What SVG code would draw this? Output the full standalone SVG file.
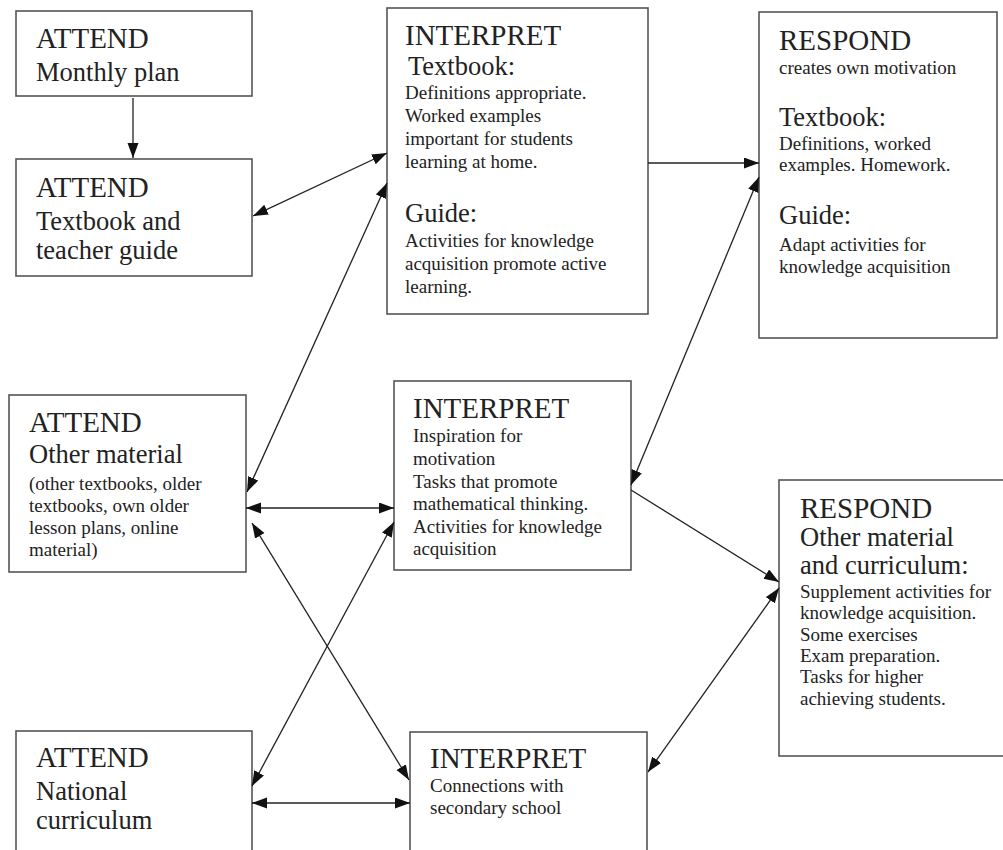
<svg xmlns="http://www.w3.org/2000/svg" width="1003" height="850" viewBox="0 0 1003 850">
<style>
.box{fill:#fff;stroke:#555;stroke-width:1.6}
.t{font-family:"Liberation Serif","Times New Roman",serif;fill:#222}
.h{font-size:29px}
.s{font-size:26.5px}
.m{font-size:19px}
.c{stroke:#222;stroke-width:1.3;fill:none}
</style>
<defs>
<marker id="ah" markerUnits="userSpaceOnUse" markerWidth="16" markerHeight="12" refX="15" refY="5.5" orient="auto-start-reverse">
<path d="M0,0 L15,5.5 L0,11 z" fill="#111"/>
</marker>
</defs>
<rect width="1003" height="850" fill="#fff"/>
<g id="attend-monthly">
<rect class="box" x="16" y="11" width="236" height="85"/>
<text class="t h" x="36" y="48">ATTEND</text>
<text class="t s" x="36" y="81">Monthly plan</text>
</g>
<g id="attend-textbook">
<rect class="box" x="16" y="159" width="236" height="117"/>
<text class="t h" x="36" y="197">ATTEND</text>
<text class="t s" x="36" y="230">Textbook and</text>
<text class="t s" x="36" y="259">teacher guide</text>
</g>
<g id="interpret-textbook">
<rect class="box" x="387" y="8" width="261" height="306"/>
<text class="t h" x="405" y="45">INTERPRET</text>
<text class="t s" x="408" y="75">Textbook:</text>
<text class="t m" x="405" y="99">Definitions appropriate.</text>
<text class="t m" x="405" y="122">Worked examples</text>
<text class="t m" x="405" y="145">important for students</text>
<text class="t m" x="405" y="168">learning at home.</text>
<text class="t s" x="405" y="222">Guide:</text>
<text class="t m" x="405" y="247">Activities for knowledge</text>
<text class="t m" x="405" y="270">acquisition promote active</text>
<text class="t m" x="405" y="293">learning.</text>
</g>
<g id="respond-textbook">
<rect class="box" x="759" y="12" width="238" height="326"/>
<text class="t h" x="779" y="50">RESPOND</text>
<text class="t m" x="779" y="74">creates own motivation</text>
<text class="t s" x="779" y="126">Textbook:</text>
<text class="t m" x="779" y="150">Definitions, worked</text>
<text class="t m" x="779" y="171">examples. Homework.</text>
<text class="t s" x="779" y="224">Guide:</text>
<text class="t m" x="779" y="251">Adapt activities for</text>
<text class="t m" x="779" y="273">knowledge acquisition</text>
</g>
<g id="attend-other">
<rect class="box" x="9" y="395" width="237" height="177"/>
<text class="t h" x="29" y="432">ATTEND</text>
<text class="t s" x="29" y="463">Other material</text>
<text class="t m" x="29" y="490">(other textbooks, older</text>
<text class="t m" x="29" y="512">textbooks, own older</text>
<text class="t m" x="29" y="534">lesson plans, online</text>
<text class="t m" x="29" y="556">material)</text>
</g>
<g id="interpret-other">
<rect class="box" x="394" y="381" width="237" height="189"/>
<text class="t h" x="413" y="418">INTERPRET</text>
<text class="t m" x="413" y="442">Inspiration for</text>
<text class="t m" x="413" y="465">motivation</text>
<text class="t m" x="413" y="488">Tasks that promote</text>
<text class="t m" x="413" y="510">mathematical thinking.</text>
<text class="t m" x="413" y="533">Activities for knowledge</text>
<text class="t m" x="413" y="555">acquisition</text>
</g>
<g id="respond-other">
<rect class="box" x="779" y="480" width="230" height="276"/>
<text class="t h" x="800" y="518">RESPOND</text>
<text class="t s" x="800" y="546">Other material</text>
<text class="t s" x="800" y="574">and curriculum:</text>
<text class="t m" x="800" y="598">Supplement activities for</text>
<text class="t m" x="800" y="619">knowledge acquisition.</text>
<text class="t m" x="800" y="641">Some exercises</text>
<text class="t m" x="800" y="662">Exam preparation.</text>
<text class="t m" x="800" y="683">Tasks for higher</text>
<text class="t m" x="800" y="705">achieving students.</text>
</g>
<g id="attend-national">
<rect class="box" x="16" y="731" width="236" height="130"/>
<text class="t h" x="36" y="767">ATTEND</text>
<text class="t s" x="36" y="800">National</text>
<text class="t s" x="36" y="829">curriculum</text>
</g>
<g id="interpret-secondary">
<rect class="box" x="410" y="732" width="237" height="130"/>
<text class="t h" x="430" y="768">INTERPRET</text>
<text class="t m" x="430" y="792">Connections with</text>
<text class="t m" x="430" y="814">secondary school</text>
</g>
<g id="connectors">
<line class="c" x1="133" y1="98" x2="133" y2="158" marker-end="url(#ah)"/>
<line class="c" x1="253" y1="216" x2="387" y2="153" marker-start="url(#ah)" marker-end="url(#ah)"/>
<line class="c" x1="387" y1="183" x2="247" y2="492" marker-start="url(#ah)" marker-end="url(#ah)"/>
<line class="c" x1="648" y1="163" x2="759" y2="163" marker-end="url(#ah)"/>
<line class="c" x1="759" y1="177" x2="631" y2="485" marker-start="url(#ah)" marker-end="url(#ah)"/>
<line class="c" x1="246" y1="508" x2="394" y2="508" marker-start="url(#ah)" marker-end="url(#ah)"/>
<line class="c" x1="252" y1="523" x2="409" y2="780" marker-start="url(#ah)" marker-end="url(#ah)"/>
<line class="c" x1="252" y1="786" x2="394" y2="522" marker-start="url(#ah)" marker-end="url(#ah)"/>
<line class="c" x1="252" y1="803" x2="410" y2="803" marker-start="url(#ah)" marker-end="url(#ah)"/>
<line class="c" x1="631" y1="490" x2="779" y2="582" marker-end="url(#ah)"/>
<line class="c" x1="779" y1="588" x2="648" y2="772" marker-start="url(#ah)" marker-end="url(#ah)"/>
</g>
</svg>
